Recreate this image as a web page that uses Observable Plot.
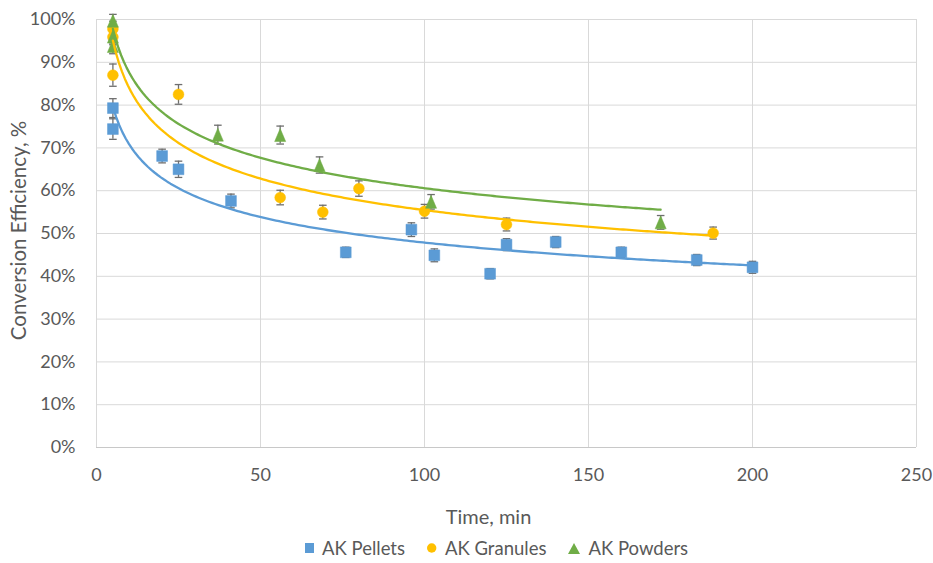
<!DOCTYPE html>
<html><head><meta charset="utf-8">
<script src="https://cdn.jsdelivr.net/npm/d3@7"></script>
<script src="https://cdn.jsdelivr.net/npm/@observablehq/plot@0.6"></script>
<style>
body{margin:0;background:#fff;font-family:Lato,sans-serif;}
#chart{width:933px;height:563px;position:relative;overflow:hidden}
#legend{position:absolute;left:305px;top:538px;display:flex;align-items:center;font-family:Lato,sans-serif;font-size:18.5px;color:#595959;white-space:nowrap;line-height:20px}
#legend .item{display:flex;align-items:center;margin-right:22px}
#legend svg{margin-right:8px}
</style></head><body><div id="chart"></div><script>
// ---- data ----
const seriesNames = ["AK Pellets", "AK Granules", "AK Powders"];
const seriesColors = ["#5B9BD5", "#FFC000", "#70AD47"];

const pelletsTime = [5, 5, 20, 25, 41, 76, 96, 103, 120, 125, 140, 160, 183, 200];
const pelletsEff  = [79.3, 74.4, 68.1, 65.0, 57.6, 45.6, 50.9, 44.9, 40.6, 47.4, 48.0, 45.6, 43.8, 42.1];
const pelletsErr  = [2.2, 2.4, 1.6, 1.9, 1.6, 1.2, 1.6, 1.5, 1.2, 1.4, 1.3, 1.2, 1.3, 1.4];

const granulesTime = [5, 5, 5, 25, 56, 69, 80, 100, 125, 188];
const granulesEff  = [97.8, 95.9, 87.0, 82.5, 58.4, 55.0, 60.5, 55.2, 52.1, 50.1];
const granulesErr  = [1.8, 1.8, 2.6, 2.3, 1.7, 1.6, 1.8, 1.6, 1.5, 1.4];

const powdersTime = [5, 5, 5, 37, 56, 68, 102, 172];
const powdersEff  = [99.7, 96.0, 93.8, 73.1, 73.0, 66.0, 57.4, 52.6];
const powdersErr  = [1.5, 1.5, 1.8, 2.2, 2.1, 1.9, 1.7, 1.6];

const xTicks = [0, 50, 100, 150, 200, 250];
const yTicks = [0, 10, 20, 30, 40, 50, 60, 70, 80, 90, 100];
const xTitle = "Time, min";
const yTitle = "Conversion Efficiency, %";

// ---- build tables ----
function rows(name, t, e, err){ return t.map((v,i)=>({series:name, time:v, eff:e[i], err:err[i]})); }
const pellets = rows(seriesNames[0], pelletsTime, pelletsEff, pelletsErr);
const granules = rows(seriesNames[1], granulesTime, granulesEff, granulesErr);
const powders = rows(seriesNames[2], powdersTime, powdersEff, powdersErr);
const all = [...pellets, ...granules, ...powders];

// power-law trendline (least squares on log-log, as the spreadsheet trendline)
function powerTrend(data){
  const lx = data.map(d=>Math.log(d.time)), ly = data.map(d=>Math.log(d.eff));
  const mx = d3.mean(lx), my = d3.mean(ly);
  const b = d3.sum(lx,(v,i)=>(v-mx)*(ly[i]-my)) / d3.sum(lx,v=>(v-mx)**2);
  const a = Math.exp(my - b*mx);
  const [x0,x1] = d3.extent(data, d=>d.time);
  return d3.range(0, 201).map(i=>{ const x = x0 + (x1-x0)*i/200; return {time:x, eff:a*Math.pow(x,b)}; });
}

const capSymbol = {draw(ctx, size){ const w = Math.sqrt(size/Math.PI); ctx.moveTo(-w,0); ctx.lineTo(w,0); }};
const triSymbol = {draw(ctx, size){ const r = Math.sqrt(size/Math.PI); ctx.moveTo(0,-r); ctx.lineTo(r*0.85,r); ctx.lineTo(-r*0.85,r); ctx.closePath(); }};
const errColor = "#6e6e6e";

const plot = Plot.plot({
  width: 933, height: 530,
  marginLeft: 96, marginRight: 17, marginTop: 19, marginBottom: 83,
  style: {fontFamily: "Lato, sans-serif", fontSize: "18px", color: "#595959", background: "white", overflow: "visible"},
  x: {domain: [0, 250]},
  y: {domain: [0, 100]},
  marks: [
    Plot.gridX(xTicks, {stroke: "#d9d9d9", strokeOpacity: 1, strokeWidth: 1}),
    Plot.gridY(yTicks, {stroke: "#d9d9d9", strokeOpacity: 1, strokeWidth: 1}),
    Plot.ruleY([0], {stroke: "#c8c8c8", strokeWidth: 1}),
    Plot.axisX(xTicks, {tickSize: 0, tickPadding: 21, label: null, fill: "#595959"}),
    Plot.axisY(yTicks, {tickSize: 0, tickPadding: 21, label: null, tickFormat: d => d + "%", fill: "#595959"}),
    Plot.text([xTitle], {frameAnchor: "bottom", lineAnchor: "middle", textAnchor: "middle", dy: 70, dx: -18, fill: "#595959", fontSize: 20}),
    Plot.text([yTitle], {frameAnchor: "left", lineAnchor: "middle", textAnchor: "middle", dx: -77, dy: -3, rotate: -90, fill: "#595959", fontSize: 20.5}),
    // error bars
    Plot.ruleX(all, {x: "time", y1: d => d.eff - d.err, y2: d => d.eff + d.err, stroke: errColor, strokeWidth: 1.3}),
    Plot.dot(all, {x: "time", y: d => d.eff + d.err, symbol: capSymbol, r: 3.8, fill: "none", stroke: errColor, strokeWidth: 1.3}),
    Plot.dot(all, {x: "time", y: d => d.eff - d.err, symbol: capSymbol, r: 3.8, fill: "none", stroke: errColor, strokeWidth: 1.3}),
    // markers
    Plot.dot(pellets, {x: "time", y: "eff", symbol: "square", r: 6.1, fill: seriesColors[0], stroke: seriesColors[0], strokeWidth: 0.5}),
    Plot.dot(granules, {x: "time", y: "eff", symbol: "circle", r: 5.4, fill: seriesColors[1], stroke: seriesColors[1], strokeWidth: 0.5}),
    Plot.dot(powders, {x: "time", y: "eff", symbol: triSymbol, r: 6.5, fill: seriesColors[2], stroke: seriesColors[2], strokeWidth: 0.5}),
    // trendlines
    Plot.line(powerTrend(pellets), {x: "time", y: "eff", stroke: seriesColors[0], strokeWidth: 2.3}),
    Plot.line(powerTrend(granules), {x: "time", y: "eff", stroke: seriesColors[1], strokeWidth: 2.3}),
    Plot.line(powerTrend(powders), {x: "time", y: "eff", stroke: seriesColors[2], strokeWidth: 2.3})
  ]
});
const chart = document.getElementById("chart");
chart.appendChild(plot);

// legend (HTML below the SVG)
const legend = document.createElement("div");
legend.id = "legend";
const shapes = [
  '<rect x="0" y="0" width="9" height="10"/>',
  '<circle cx="4.7" cy="5" r="4.7"/>',
  '<path d="M6,0 L12,11 L0,11 Z"/>'
];
const widths = [9, 10, 12];
seriesNames.forEach((name, i) => {
  const item = document.createElement("div");
  item.className = "item";
  item.innerHTML = `<svg width="${widths[i]}" height="11" viewBox="0 0 ${widths[i]} 11" fill="${seriesColors[i]}">${shapes[i]}</svg><span>${name}</span>`;
  legend.appendChild(item);
});
chart.appendChild(legend);
</script></body></html>
